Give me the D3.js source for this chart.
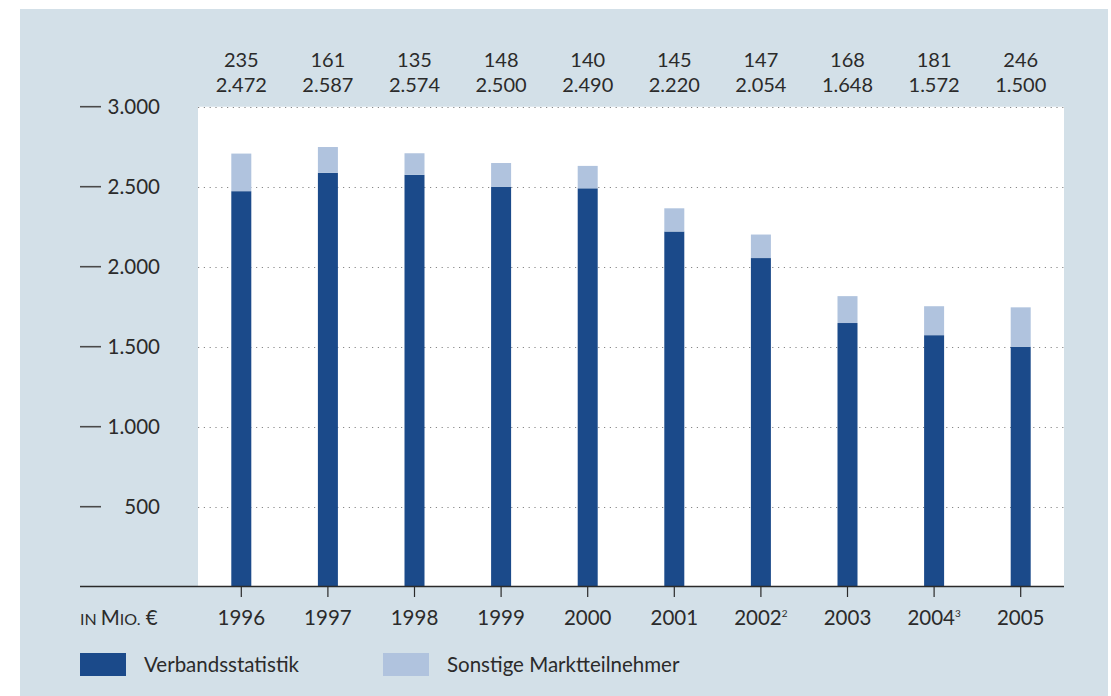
<!DOCTYPE html>
<html><head><meta charset="utf-8">
<script src="https://cdn.jsdelivr.net/npm/d3@7"></script>
<style>body{margin:0;background:#fff;} svg{display:block;font-family:"Lato","Open Sans",sans-serif;}</style>
</head><body>
<svg id="c" width="1111" height="696"></svg>
<script>
const years = ["1996","1997","1998","1999","2000","2001","2002","2003","2004","2005"];
const yearSup = ["","","","","","","2","","3",""];
const verband = [2472,2587,2574,2500,2490,2220,2054,1648,1572,1500];
const sonstige = [235,161,135,148,140,145,147,168,181,246];
const yTicks = [500,1000,1500,2000,2500,3000];
const seriesNames = ["Verbandsstatistik","Sonstige Marktteilnehmer"];
const colors = ["#1b4a8a","#b0c3de"];
const FS = 20.5;
const TXT = "#2b2b2b";

const svg = d3.select("#c");
const fmt = v => d3.format(",")(v).replace(/,/g,".");
svg.append("rect").attr("x",20).attr("y",9).attr("width",1088).attr("height",687).attr("fill","#d3e0e8");

const x = d3.scaleBand().domain(years).range([198,1064]);
const y = d3.scaleLinear().domain([0,3000]).range([586.7,106.7]);

svg.append("rect").attr("x",198).attr("y",y(3000)).attr("width",866).attr("height",y(0)-y(3000)).attr("fill","#fff");

// gridlines
svg.append("g").selectAll("line").data(yTicks).join("line")
  .attr("x1",198).attr("x2",1064).attr("y1",d=>Math.round(y(d))+0.5).attr("y2",d=>Math.round(y(d))+0.5)
  .attr("stroke","#888").attr("stroke-width",1.2).attr("stroke-dasharray","1.2,4.6");

// y labels
const yl = svg.append("g");
yl.selectAll("line").data(yTicks).join("line")
  .attr("x1",80).attr("x2",101).attr("y1",d=>y(d)).attr("y2",d=>y(d))
  .attr("stroke","#4a4a4a").attr("stroke-width",1.6);
yl.selectAll("text").data(yTicks).join("text")
  .attr("x",160).attr("y",d=>y(d)).attr("dy","0.35em").attr("text-anchor","end")
  .attr("font-size",FS).attr("fill",TXT).text(fmt);

const bw = 20;
// bars
const bars = svg.append("g");
bars.selectAll("rect.v").data(years).join("rect").attr("class","v")
  .attr("x",d=>x(d)+x.bandwidth()/2-bw/2).attr("width",bw)
  .attr("y",(d,i)=>y(verband[i])).attr("height",(d,i)=>y(0)-y(verband[i])).attr("fill",colors[0]);
bars.selectAll("rect.s").data(years).join("rect").attr("class","s")
  .attr("x",d=>x(d)+x.bandwidth()/2-bw/2).attr("width",bw)
  .attr("y",(d,i)=>y(verband[i]+sonstige[i])).attr("height",(d,i)=>y(verband[i])-y(verband[i]+sonstige[i])).attr("fill",colors[1]);

// x axis
svg.append("line").attr("x1",80).attr("x2",1064).attr("y1",586.5).attr("y2",586.5).attr("stroke","#2a2a2a").attr("stroke-width",1.5);
svg.append("g").selectAll("line").data(years).join("line")
  .attr("x1",d=>x(d)+x.bandwidth()/2).attr("x2",d=>x(d)+x.bandwidth()/2)
  .attr("y1",587).attr("y2",597).attr("stroke","#2a2a2a").attr("stroke-width",1.2);
const xt = svg.append("g").selectAll("text").data(years).join("text")
  .attr("x",d=>x(d)+x.bandwidth()/2).attr("y",625).attr("text-anchor","middle")
  .attr("font-size",FS).attr("fill",TXT);
xt.append("tspan").text(d=>d);
xt.filter((d,i)=>yearSup[i]).append("tspan").attr("font-size",10).attr("dy",-8).text(d=>yearSup[years.indexOf(d)]);
const unit = svg.append("text").attr("x",80).attr("y",625).attr("font-size",FS).attr("fill",TXT);
unit.append("tspan").attr("font-size",16).text("IN ");
unit.append("tspan").text("M");
unit.append("tspan").attr("font-size",16).text("IO.");
unit.append("tspan").text(" €");

// top labels
const tl = svg.append("g");
tl.selectAll("text.a").data(years).join("text").attr("class","a")
  .attr("x",d=>x(d)+x.bandwidth()/2).attr("y",67).attr("text-anchor","middle")
  .attr("font-size",20).attr("fill",TXT).text((d,i)=>sonstige[i]);
tl.selectAll("text.b").data(years).join("text").attr("class","b")
  .attr("x",d=>x(d)+x.bandwidth()/2).attr("y",91.5).attr("text-anchor","middle")
  .attr("font-size",20).attr("fill",TXT).text((d,i)=>fmt(verband[i]));

// legend
const lg = svg.append("g");
const lx = [80,383];
lg.selectAll("rect").data(seriesNames).join("rect")
  .attr("x",(d,i)=>lx[i]).attr("y",653).attr("width",46).attr("height",23).attr("fill",(d,i)=>colors[i]);
lg.selectAll("text").data(seriesNames).join("text")
  .attr("x",(d,i)=>lx[i]+64).attr("y",672).attr("font-size",FS).attr("fill",TXT).text(d=>d);
</script>
</body></html>
